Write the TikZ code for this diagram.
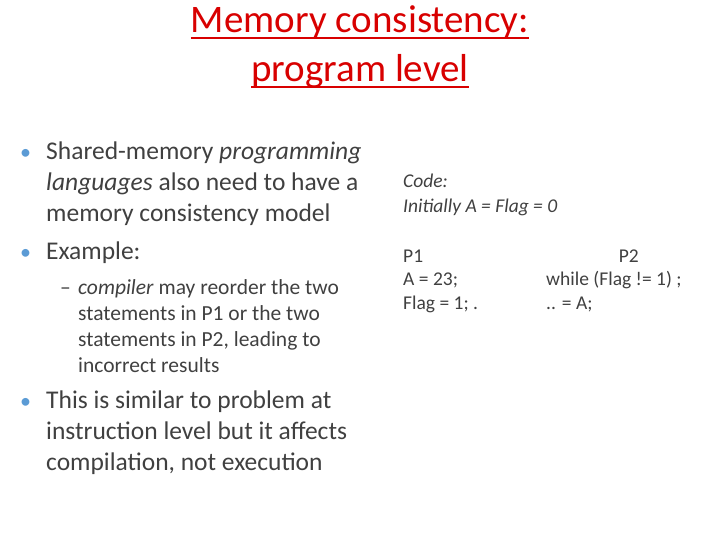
\documentclass[tikz,border=0pt]{standalone}
\usepackage{fontspec}
\setmainfont{Carlito}
\usetikzlibrary{calc}
\definecolor{tred}{HTML}{D80000}
\definecolor{btxt}{HTML}{404040}
\definecolor{bul}{HTML}{5B9BD5}
\begin{document}
\begin{tikzpicture}[x=1pt,y=-1pt,
  title/.style={anchor=base,text=tred,font=\fontsize{39}{39}\selectfont,inner sep=0},
  uline/.style={draw=tred,line width=1.5pt},
  big/.style={anchor=base west,text=btxt,font=\fontsize{25.5}{25.5}\selectfont,inner sep=0},
  sub/.style={anchor=base west,text=btxt,font=\fontsize{21.5}{21.5}\selectfont,inner sep=0},
  code/.style={anchor=base west,text=btxt,font=\fontsize{19.5}{19.5}\selectfont,inner sep=0},
  bull/.style={anchor=base west,text=bul,font=\fontsize{22}{22}\selectfont,inner sep=0}]
\useasboundingbox (0,0) rectangle (720,540);
\node[title] (t1) at (360,33) {Memory consistency:};
\node[title] (t2) at (360,82) {program level};
\draw[uline] ($(t1.base west)+(0,5)$) -- ($(t1.base east)+(0,5)$);
\draw[uline] ($(t2.base west)+(0,5)$) -- ($(t2.base east)+(0,5)$);
\node[bull] (b1) at (20,160) {•};
\node[big] (l1) at (46,160) {Shared-memory \textit{programming}};
\node[big] (l2) at (46,191) {\textit{languages} also need to have a};
\node[big] (l3) at (46,222) {memory consistency model};
\node[bull] (b2) at (20,259) {•};
\node[big] (l4) at (46,259) {Example:};
\node[sub] (d1) at (60,294) {–};
\node[sub] (s1) at (78,294) {\textit{compiler} may reorder the two};
\node[sub] (s2) at (78,320) {statements in P1 or the two};
\node[sub] (s3) at (78,346) {statements in P2, leading to};
\node[sub] (s4) at (78,372) {incorrect results};
\node[bull] (b3) at (20,408) {•};
\node[big] (l5) at (46,408) {This is similar to problem at};
\node[big] (l6) at (46,439) {instruction level but it affects};
\node[big] (l7) at (46,470) {compilation, not execution};
\node[code] (c1) at (403,188) {\textit{Code:}};
\node[code] (c2) at (403,213) {\textit{Initially A = Flag = 0}};
\node[code] (p1) at (403,262) {P1};
\node[code] (p2) at (403,285) {A = 23;};
\node[code] (p3) at (403,309) {Flag = 1; .};
\node[code,anchor=base east] (q1) at (639,262) {P2};
\node[code] (q2) at (546,285) {while (Flag != 1) ;};
\node[code] (q3) at (546,309) {.. = A;};
\end{tikzpicture}
\end{document}
